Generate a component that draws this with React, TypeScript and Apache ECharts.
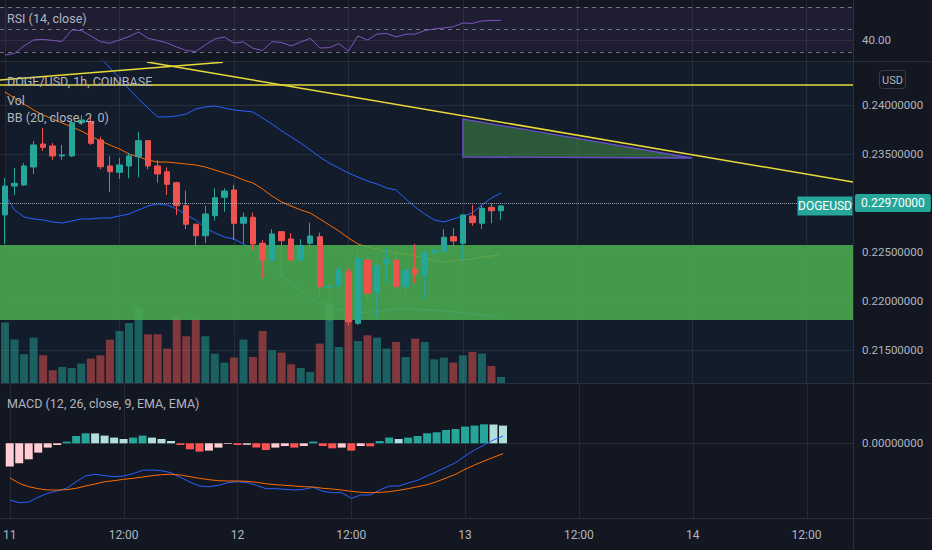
import React, { useEffect, useRef } from 'react';
import * as echarts from 'echarts';

// ---------- data (hour index 0 = day 11, 00:00) ----------
const TICK_HOURS = [0, 12, 24, 36, 48, 60, 72, 84];
const TICK_LABELS = ['11', '12:00', '12', '12:00', '13', '12:00', '14', '12:00'];

const OPEN = [0.22878, 0.23173, 0.23184, 0.23367, 0.23602, 0.23582, 0.2348, 0.2348, 0.23819, 0.2383, 0.23643, 0.23378, 0.23313, 0.23378, 0.23472, 0.23636, 0.23378, 0.23319, 0.23207, 0.22972, 0.22783, 0.22666, 0.2287, 0.23058, 0.23133, 0.22793, 0.22854, 0.22589, 0.22411, 0.22707, 0.22633, 0.22418, 0.22589, 0.22656, 0.2214, 0.22163, 0.22299, 0.21772, 0.22418, 0.22092, 0.22385, 0.22418, 0.22146, 0.22323, 0.22265, 0.2249, 0.22503, 0.22656, 0.22589, 0.22867, 0.22793, 0.22956, 0.22921];
const CLOSE = [0.23173, 0.23201, 0.23378, 0.23592, 0.23568, 0.2348, 0.2349, 0.23819, 0.23847, 0.23609, 0.2337, 0.23319, 0.23388, 0.2348, 0.23636, 0.23378, 0.23296, 0.23191, 0.22972, 0.22783, 0.22666, 0.22888, 0.23054, 0.23122, 0.22793, 0.22854, 0.22582, 0.22418, 0.22684, 0.22615, 0.22418, 0.22561, 0.22663, 0.22146, 0.2215, 0.22316, 0.21789, 0.22436, 0.22079, 0.22362, 0.22426, 0.22146, 0.22316, 0.22283, 0.22493, 0.2252, 0.2265, 0.22612, 0.22878, 0.22799, 0.22946, 0.22921, 0.2297];
const HIGH = [0.23255, 0.23357, 0.23408, 0.23633, 0.23765, 0.23612, 0.23592, 0.2383, 0.23898, 0.23888, 0.23677, 0.2348, 0.23459, 0.23513, 0.23728, 0.2364, 0.23439, 0.23364, 0.23217, 0.23126, 0.2279, 0.22972, 0.2315, 0.2315, 0.23184, 0.22901, 0.22901, 0.22622, 0.22732, 0.22712, 0.22691, 0.2263, 0.22799, 0.22697, 0.22197, 0.2235, 0.22337, 0.22538, 0.2248, 0.22367, 0.22541, 0.22538, 0.22337, 0.22582, 0.2252, 0.22571, 0.22732, 0.22742, 0.22885, 0.2298, 0.2298, 0.22997, 0.2298];
const LOW = [0.22582, 0.23082, 0.23173, 0.23296, 0.23531, 0.23439, 0.23439, 0.23469, 0.23796, 0.23592, 0.23344, 0.23115, 0.23245, 0.23252, 0.23262, 0.23344, 0.23207, 0.23082, 0.22878, 0.22732, 0.22554, 0.22589, 0.22819, 0.22911, 0.22622, 0.22589, 0.2252, 0.22232, 0.22401, 0.22232, 0.2241, 0.2241, 0.22538, 0.22028, 0.21796, 0.2213, 0.21755, 0.21755, 0.2201, 0.21824, 0.22184, 0.22112, 0.2206, 0.22181, 0.2201, 0.22388, 0.22487, 0.2252, 0.22418, 0.22768, 0.22735, 0.22793, 0.22827];
// volume, millions
const VOLUME = [6.04, 4.34, 2.87, 4.54, 2.77, 1.27, 1.6, 1.5, 1.94, 2.44, 2.77, 4.34, 5.2, 6.0, 7.44, 4.87, 4.87, 3.44, 6.67, 4.67, 6.37, 4.67, 2.94, 2.04, 2.54, 4.34, 2.6, 5.2, 3.27, 3.04, 1.87, 1.5, 1.1, 3.94, 7.94, 3.6, 7.0, 4.2, 4.77, 4.54, 3.44, 4.1, 2.6, 4.44, 4.1, 2.37, 2.54, 2.04, 2.77, 3.1, 2.94, 1.7, 0.6];
const BB_UPPER = [0.24816, 0.24847, 0.24867, 0.24878, 0.24867, 0.24847, 0.24796, 0.24735, 0.24643, 0.24541, 0.2448, 0.24378, 0.24276, 0.24163, 0.24061, 0.23969, 0.23878, 0.23878, 0.23888, 0.23908, 0.23959, 0.2398, 0.2399, 0.23969, 0.23949, 0.23939, 0.23929, 0.23867, 0.23806, 0.23735, 0.23673, 0.23612, 0.23541, 0.23469, 0.23408, 0.23357, 0.23306, 0.23265, 0.23224, 0.23194, 0.23153, 0.23133, 0.23041, 0.22959, 0.22888, 0.22827, 0.22806, 0.22837, 0.22867, 0.22898, 0.2298, 0.23051, 0.23102];
const BB_BASIS = [0.24133, 0.24071, 0.2401, 0.23949, 0.23898, 0.23857, 0.23816, 0.23776, 0.23735, 0.23684, 0.23633, 0.23592, 0.23551, 0.235, 0.23469, 0.23439, 0.23418, 0.23418, 0.23408, 0.23398, 0.23388, 0.23367, 0.23337, 0.23306, 0.23276, 0.23235, 0.23204, 0.23143, 0.23071, 0.2301, 0.22969, 0.22929, 0.22898, 0.22837, 0.22776, 0.22714, 0.22643, 0.22582, 0.22551, 0.22531, 0.2251, 0.2249, 0.2248, 0.22459, 0.22439, 0.22418, 0.22398, 0.22408, 0.22418, 0.22429, 0.22449, 0.22459, 0.2248];
const BB_LOWER = [0.23082, 0.22929, 0.22857, 0.22837, 0.22827, 0.22806, 0.22796, 0.22816, 0.22837, 0.22837, 0.22847, 0.22847, 0.22867, 0.22888, 0.22929, 0.22969, 0.2299, 0.2298, 0.22939, 0.22878, 0.22827, 0.22745, 0.22694, 0.22653, 0.22633, 0.22582, 0.2252, 0.22439, 0.22357, 0.22265, 0.22184, 0.22102, 0.22031, 0.2198, 0.21949, 0.21918, 0.21888, 0.21878, 0.21888, 0.21888, 0.21908, 0.21918, 0.21918, 0.21918, 0.21908, 0.21908, 0.21898, 0.21888, 0.21878, 0.21867, 0.21857, 0.21847, 0.21827];
const RSI = [27.1, 28.4, 35.1, 40.4, 41, 40, 39.1, 49.3, 48.8, 44, 38.9, 37.5, 40.4, 43.5, 47.5, 41.9, 40, 37.7, 34.2, 31.1, 30.2, 36, 41.3, 43.1, 37.7, 38.6, 33, 31.1, 38.9, 38.2, 35.1, 38.6, 41.9, 33.3, 33.6, 37.3, 30.6, 44, 40.4, 45.7, 46.2, 43.1, 45.5, 45.7, 48.8, 50.2, 51.1, 52.2, 55.5, 55.2, 57.3, 57.7, 57.9];
const MACD_LINE = [-113.4e-5, -118.8e-5, -117.4e-5, -108e-5, -100e-5, -95.4e-5, -90e-5, -76.8e-5, -65.4e-5, -62e-5, -64.8e-5, -66.8e-5, -65.4e-5, -60.8e-5, -54e-5, -53.4e-5, -54.8e-5, -58.8e-5, -68e-5, -77.4e-5, -85.4e-5, -86.8e-5, -84e-5, -78.8e-5, -76.8e-5, -78.8e-5, -84e-5, -90.8e-5, -90.8e-5, -92e-5, -93.4e-5, -92e-5, -88e-5, -96e-5, -98.8e-5, -98.8e-5, -110e-5, -103.4e-5, -103.4e-5, -93.4e-5, -85.4e-5, -85.4e-5, -79.4e-5, -74e-5, -65.4e-5, -56.8e-5, -48e-5, -38.8e-5, -25.4e-5, -13.4e-5, -3.4e-5, 6.6e-5, 14.6e-5];
const MACD_SIGNAL = [-68.8e-5, -80e-5, -86.8e-5, -90.8e-5, -93.4e-5, -93.4e-5, -92.8e-5, -90e-5, -85.4e-5, -81.4e-5, -76.8e-5, -74.8e-5, -72e-5, -70e-5, -67.4e-5, -64.8e-5, -62.8e-5, -62e-5, -63.4e-5, -66.8e-5, -70e-5, -72.8e-5, -74.8e-5, -75.4e-5, -75.4e-5, -76e-5, -78e-5, -80.8e-5, -82.8e-5, -84e-5, -85.4e-5, -86.8e-5, -87.4e-5, -90e-5, -91.4e-5, -93.4e-5, -96e-5, -98e-5, -98.8e-5, -98e-5, -96.8e-5, -94e-5, -90.8e-5, -86.8e-5, -82.8e-5, -76.8e-5, -69.4e-5, -62e-5, -52e-5, -43.4e-5, -35.4e-5, -28e-5, -20.8e-5];
const MACD_HIST = [-46.6e-5, -40e-5, -32e-5, -18.6e-5, -8.6e-5, -3.4e-5, 3.4e-5, 14.6e-5, 20e-5, 19.8e-5, 15.4e-5, 11.4e-5, 8.6e-5, 11.4e-5, 15.4e-5, 11.4e-5, 8.6e-5, 4.6e-5, -3.4e-5, -12e-5, -16.6e-5, -14.6e-5, -8.6e-5, -1.4e-5, -3.4e-5, -3e-5, -8.6e-5, -13.4e-5, -8.6e-5, -5.4e-5, -8.6e-5, -5.4e-5, 3.4e-5, -5.4e-5, -10e-5, -8.6e-5, -14.6e-5, -5.4e-5, -6e-5, 4.6e-5, 11.4e-5, 8.6e-5, 11.4e-5, 14.6e-5, 20e-5, 22e-5, 26.6e-5, 28.6e-5, 33.4e-5, 35.4e-5, 38e-5, 37.6e-5, 35.4e-5];

// drawings (hour, price)
const ZONE_TOP = 0.22571;
const ZONE_BOTTOM = 0.21806;
const TRIANGLE_X = [48, 48, 72];
const TRIANGLE_Y = [0.23857, 0.23469, 0.23459];
const LEVEL_LINE = 0.24204;
const TREND_A_X = [-0.524, 22.85];
const TREND_A_Y = [0.24255, 0.24436];
const TREND_B_X = [14.88, 88.9];
const TREND_B_Y = [0.24439, 0.23214];

// axis ranges / ticks
const X_MIN = -0.524;
const X_MAX = 88.9;
const PRICE_MIN = 0.21163;
const PRICE_MAX = 0.24449;
const PRICE_LABELS = [0.215, 0.22, 0.225, 0.235, 0.24];
const PRICE_GRID = [0.215, 0.22, 0.225, 0.23, 0.235, 0.24];
const RSI_MIN = 21.73;
const RSI_MAX = 75.96;
const RSI_LEVELS = [70, 50, 30];
const RSI_LABELS = [40];
const VOL_MAX = 32.2;
const MACD_MIN = -149.4e-5;
const MACD_MAX = 120.6e-5;

// ---------- styling ----------
const FONT = 'Roboto, "Noto Sans", sans-serif';
const BG = '#131722';
const TXT = '#b2b5be';
const GRID_C = 'rgba(42,46,57,0.8)';
const SEP = '#2a2e39';
const UP = '#26a69a';
const DOWN = '#ef5350';
const YELLOW = '#e9da3c';

const hLine = (g: number, yIdx: number, values: number[], stroke: string, dash?: number[]) => ({
  type: 'custom', xAxisIndex: g, yAxisIndex: yIdx, z: 0, silent: true,
  data: values.map((v) => [0, v]),
  renderItem: (params: any, api: any) => {
    const cs = params.coordSys;
    const y = Math.round(api.coord([0, api.value(1)])[1]) + 0.5;
    return { type: 'line', shape: { x1: cs.x, y1: y, x2: cs.x + cs.width, y2: y }, style: { stroke, lineWidth: 1, lineDash: dash } };
  },
});

const vLine = (g: number, yIdx: number) => ({
  type: 'custom', xAxisIndex: g, yAxisIndex: yIdx, z: 0, silent: true,
  data: TICK_HOURS.map((h) => [h, 0]),
  renderItem: (params: any, api: any) => {
    const cs = params.coordSys;
    const x = Math.round(api.coord([api.value(0), 0])[0]) + 0.5;
    return { type: 'line', shape: { x1: x, y1: cs.y, x2: x, y2: cs.y + cs.height }, style: { stroke: GRID_C, lineWidth: 1 } };
  },
});

export default function App() {
  const ref = useRef<HTMLDivElement>(null);
  useEffect(() => {
    document.body.style.margin = '0';
    document.body.style.background = BG;
    if (!ref.current) return;
    const chart = echarts.init(ref.current, null, { renderer: 'svg' });
    const idx = OPEN.map((_, i) => i);
    const LAST = CLOSE[CLOSE.length - 1];

    const histColor = (i: number) => {
      const v = MACD_HIST[i];
      const prev = i > 0 ? MACD_HIST[i - 1] : -Infinity;
      if (v >= 0) return v > prev ? '#26a69a' : '#b2dfdb';
      return v > prev ? '#ffcdd2' : '#ff5252';
    };

    const axisLbl = { color: TXT, fontSize: 11.5, fontFamily: FONT };

    const option: any = {
      animation: false,
      backgroundColor: BG,
      textStyle: { fontFamily: FONT },
      grid: [
        { left: 0, right: 79, top: 0, height: 61 },
        { left: 0, right: 79, top: 61, height: 322 },
        { left: 0, right: 79, top: 383, height: 135 },
      ],
      xAxis: [0, 1, 2].map((g) => ({
        type: 'value', gridIndex: g, min: X_MIN, max: X_MAX,
        axisLine: { show: false }, axisTick: { show: false }, splitLine: { show: false },
        axisLabel: g === 2
          ? { show: true, customValues: TICK_HOURS, formatter: (v: number) => TICK_LABELS[TICK_HOURS.indexOf(v)] ?? '', color: TXT, fontSize: 12, fontFamily: FONT, margin: 11 }
          : { show: false },
      })),
      yAxis: [
        { type: 'value', gridIndex: 0, position: 'right', min: RSI_MIN, max: RSI_MAX, axisLine: { show: false }, axisTick: { show: false }, splitLine: { show: false },
          axisLabel: { ...axisLbl, customValues: RSI_LABELS, formatter: (v: number) => v.toFixed(2), margin: 9 } },
        { type: 'value', gridIndex: 1, position: 'right', min: PRICE_MIN, max: PRICE_MAX, axisLine: { show: false }, axisTick: { show: false }, splitLine: { show: false },
          axisLabel: { ...axisLbl, customValues: PRICE_LABELS, formatter: (v: number) => v.toFixed(8), margin: 9 } },
        { type: 'value', gridIndex: 1, show: false, min: 0, max: VOL_MAX },
        { type: 'value', gridIndex: 2, position: 'right', min: MACD_MIN, max: MACD_MAX, axisLine: { show: false }, axisTick: { show: false }, splitLine: { show: false },
          axisLabel: { ...axisLbl, customValues: [0], formatter: (v: number) => v.toFixed(8), margin: 9 } },
      ],
      graphic: [
        { type: 'text', x: 7, y: 18, z: 100, style: { text: 'RSI (14, close)', fill: TXT, fontSize: 12.5, fontFamily: FONT, verticalAlign: 'middle' } },
        { type: 'text', x: 7, y: 81, z: 100, style: { text: 'DOGE/USD, 1h, COINBASE', fill: TXT, fontSize: 12.5, fontFamily: FONT, verticalAlign: 'middle' } },
        { type: 'text', x: 7, y: 100, z: 100, style: { text: 'Vol', fill: TXT, fontSize: 12.5, fontFamily: FONT, verticalAlign: 'middle' } },
        { type: 'text', x: 7, y: 117, z: 100, style: { text: 'BB (20, close, 2, 0)', fill: TXT, fontSize: 12.5, fontFamily: FONT, verticalAlign: 'middle' } },
        { type: 'text', x: 7, y: 403, z: 100, style: { text: 'MACD (12, 26, close, 9, EMA, EMA)', fill: TXT, fontSize: 12.5, fontFamily: FONT, verticalAlign: 'middle' } },
        { type: 'line', z: 100, shape: { x1: 0, y1: 61.5, x2: 932, y2: 61.5 }, style: { stroke: SEP, lineWidth: 1 } },
        { type: 'line', z: 100, shape: { x1: 0, y1: 383.5, x2: 932, y2: 383.5 }, style: { stroke: SEP, lineWidth: 1 } },
        { type: 'line', z: 100, shape: { x1: 0, y1: 518.5, x2: 932, y2: 518.5 }, style: { stroke: SEP, lineWidth: 1 } },
        { type: 'line', z: 100, shape: { x1: 853.5, y1: 0, x2: 853.5, y2: 550 }, style: { stroke: SEP, lineWidth: 1 } },
        { type: 'rect', z: 100, shape: { x: 879.5, y: 70.5, width: 26, height: 18, r: 3 }, style: { fill: BG, stroke: '#363a45', lineWidth: 1 } },
        { type: 'text', z: 101, x: 892.5, y: 80, style: { text: 'USD', fill: TXT, fontSize: 11, fontFamily: FONT, align: 'center', verticalAlign: 'middle' } },
      ],
      series: [
        // grid lines
        vLine(0, 0), vLine(1, 1), vLine(2, 3),
        hLine(1, 1, PRICE_GRID, GRID_C),
        hLine(0, 0, RSI_LABELS, GRID_C),
        hLine(2, 3, [0], GRID_C),
        // RSI band
        {
          type: 'custom', xAxisIndex: 0, yAxisIndex: 0, z: 0, silent: true,
          data: [[0, RSI_LEVELS[0], 0, RSI_LEVELS[2]]],
          renderItem: (params: any, api: any) => {
            const cs = params.coordSys;
            const y1 = api.coord([0, api.value(1)])[1];
            const y2 = api.coord([0, api.value(3)])[1];
            return { type: 'rect', shape: { x: cs.x, y: y1, width: cs.width, height: y2 - y1 }, style: { fill: 'rgba(126,87,194,0.1)' } };
          },
        },
        hLine(0, 0, RSI_LEVELS, 'rgba(140,143,155,0.75)', [4, 4]),
        {
          type: 'line', xAxisIndex: 0, yAxisIndex: 0, z: 2, symbol: 'none', silent: true,
          data: idx.map((i) => [i, RSI[i]]), lineStyle: { color: '#7e57c2', width: 1 },
        },
        // volume
        {
          type: 'bar', xAxisIndex: 1, yAxisIndex: 2, z: 1, barWidth: 8, silent: true,
          data: idx.map((i) => ({ value: [i, VOLUME[i]], itemStyle: { color: CLOSE[i] >= OPEN[i] ? 'rgba(38,166,154,0.5)' : 'rgba(239,83,80,0.5)' } })),
        },
        // Bollinger fill
        {
          type: 'line', xAxisIndex: 1, yAxisIndex: 1, z: 1, stack: 'bb', symbol: 'none', silent: true,
          data: idx.map((i) => [i, BB_LOWER[i]]), lineStyle: { width: 0, opacity: 0 },
        },
        {
          type: 'line', xAxisIndex: 1, yAxisIndex: 1, z: 1, stack: 'bb', symbol: 'none', silent: true,
          data: idx.map((i) => [i, BB_UPPER[i] - BB_LOWER[i]]), lineStyle: { width: 0, opacity: 0 },
          areaStyle: { color: 'rgba(33,150,243,0.06)' },
        },
        { type: 'line', xAxisIndex: 1, yAxisIndex: 1, z: 1, symbol: 'none', silent: true, data: idx.map((i) => [i, BB_UPPER[i]]), lineStyle: { color: '#2962ff', width: 1 } },
        { type: 'line', xAxisIndex: 1, yAxisIndex: 1, z: 1, symbol: 'none', silent: true, data: idx.map((i) => [i, BB_LOWER[i]]), lineStyle: { color: '#2962ff', width: 1 } },
        { type: 'line', xAxisIndex: 1, yAxisIndex: 1, z: 1, symbol: 'none', silent: true, data: idx.map((i) => [i, BB_BASIS[i]]), lineStyle: { color: '#ff6d00', width: 1 } },
        // support zone
        {
          type: 'custom', xAxisIndex: 1, yAxisIndex: 1, z: 2, silent: true,
          encode: { x: [0, 2], y: [1, 3] },
          data: [[X_MIN, ZONE_TOP, X_MAX, ZONE_BOTTOM]],
          renderItem: (params: any, api: any) => {
            const p1 = api.coord([api.value(0), api.value(1)]);
            const p2 = api.coord([api.value(2), api.value(3)]);
            return { type: 'rect', shape: { x: p1[0], y: p1[1], width: p2[0] - p1[0], height: p2[1] - p1[1] }, style: { fill: 'rgba(76,175,80,0.86)' } };
          },
        },
        // candles
        {
          type: 'candlestick', xAxisIndex: 1, yAxisIndex: 1, z: 3, barWidth: 6, silent: true,
          encode: { x: 0, y: [1, 2, 3, 4] },
          data: idx.map((i) => [i, OPEN[i], CLOSE[i], LOW[i], HIGH[i]]),
          itemStyle: { color: UP, color0: DOWN, borderColor: UP, borderColor0: DOWN, borderWidth: 1 },
          markLine: {
            silent: true, symbol: ['none', 'none'], animation: false,
            lineStyle: { type: 'dotted', color: 'rgba(190,195,205,0.7)', width: 1 },
            label: { show: true, position: 'end', distance: 2, formatter: () => LAST.toFixed(8), backgroundColor: UP, color: '#ffffff', fontSize: 12, fontFamily: FONT, padding: [3, 6, 3, 6], borderRadius: 2 },
            data: [{ yAxis: LAST }],
          },
          markPoint: {
            silent: true, symbol: 'rect', symbolSize: [55, 19], symbolOffset: [-28, 0],
            itemStyle: { color: UP },
            label: { show: true, position: 'inside', color: '#ffffff', fontSize: 12, fontFamily: FONT, formatter: () => 'DOGEUSD' },
            data: [{ coord: [X_MAX, LAST] }],
          },
        },
        // triangle drawing
        {
          type: 'custom', xAxisIndex: 1, yAxisIndex: 1, z: 4, silent: true,
          encode: { x: [0, 2, 4], y: [1, 3, 5] },
          data: [[TRIANGLE_X[0], TRIANGLE_Y[0], TRIANGLE_X[1], TRIANGLE_Y[1], TRIANGLE_X[2], TRIANGLE_Y[2]]],
          renderItem: (params: any, api: any) => {
            const pts = [0, 1, 2].map((k) => api.coord([api.value(2 * k), api.value(2 * k + 1)]));
            return { type: 'polygon', shape: { points: pts }, style: { fill: 'rgba(76,175,80,0.42)', stroke: '#6a4fc9', lineWidth: 1.3 } };
          },
        },
        // trend lines
        { type: 'line', xAxisIndex: 1, yAxisIndex: 1, z: 5, symbol: 'none', silent: true, data: [[X_MIN, LEVEL_LINE], [X_MAX, LEVEL_LINE]], lineStyle: { color: YELLOW, width: 1.5 } },
        { type: 'line', xAxisIndex: 1, yAxisIndex: 1, z: 5, symbol: 'none', silent: true, data: TREND_A_X.map((x, k) => [x, TREND_A_Y[k]]), lineStyle: { color: YELLOW, width: 1.5 } },
        { type: 'line', xAxisIndex: 1, yAxisIndex: 1, z: 5, symbol: 'none', silent: true, data: TREND_B_X.map((x, k) => [x, TREND_B_Y[k]]), lineStyle: { color: YELLOW, width: 1.5 } },
        // MACD
        {
          type: 'bar', xAxisIndex: 2, yAxisIndex: 3, z: 2, barWidth: 8, silent: true,
          data: idx.map((i) => ({ value: [i, MACD_HIST[i]], itemStyle: { color: histColor(i) } })),
        },
        { type: 'line', xAxisIndex: 2, yAxisIndex: 3, z: 3, symbol: 'none', silent: true, data: idx.map((i) => [i, MACD_LINE[i]]), lineStyle: { color: '#2962ff', width: 1 } },
        { type: 'line', xAxisIndex: 2, yAxisIndex: 3, z: 3, symbol: 'none', silent: true, data: idx.map((i) => [i, MACD_SIGNAL[i]]), lineStyle: { color: '#ff6d00', width: 1 } },
      ],
    };
    chart.setOption(option);
    return () => chart.dispose();
  }, []);
  return <div ref={ref} style={{ width: 932, height: 550, background: BG }} />;
}
